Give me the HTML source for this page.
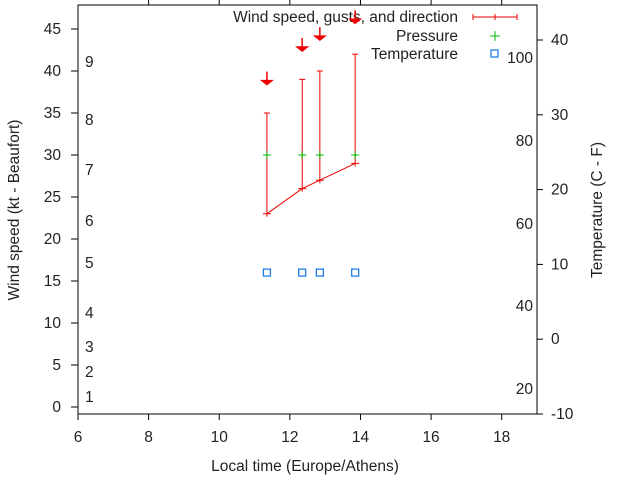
<!DOCTYPE html>
<html><head><meta charset="utf-8"><style>
body{margin:0;background:#fff}
svg text{font-family:"Liberation Sans",sans-serif;font-size:15.5px;fill:#222}
</style></head><body>
<svg id="c" width="640" height="480" xmlns="http://www.w3.org/2000/svg"></svg>
<script>
const times=[11.35,12.35,12.85,13.85];
const wind=[23,26,27,29];
const gust=[35,39,40,42];
const pressureY=[30,30,30,30];
const tempY=[16,16,16,16];
const dirY=[38.5,42.5,43.8,45.8];
const xTicks=[6,8,10,12,14,16,18];
const yTicks=[0,5,10,15,20,25,30,35,40,45];
const cTicks=[-10,0,10,20,30,40];
const fLabels=[{t:"20",y:389},{t:"40",y:306},{t:"60",y:224},{t:"80",y:141},{t:"100",y:58}];
const bLabels=[["1",397],["2",372],["3",347],["4",313],["5",263],["6",221],["7",170],["8",120],["9",62]];
const L=78,R=537,T=5,B=414;
const X=v=>L+(v-6)*(R-L)/13;
const Y=v=>407-v*8.4;
const YC=v=>414-(v+10)*7.48;
const s=document.getElementById('c');
function el(n,a,p){const e=document.createElementNS('http://www.w3.org/2000/svg',n);for(const k in a)e.setAttribute(k,a[k]);(p||s).appendChild(e);return e;}
function tx(x,y,t,anchor,name){const e=el('text',{x:x,y:y,'text-anchor':anchor||'start'});e.textContent=t;return e;}
const fr=el('rect',{x:L,y:T,width:R-L,height:B-T,fill:'none',stroke:'#000'});

xTicks.forEach(v=>{const x=X(v);el('line',{x1:x,x2:x,y1:B,y2:B+6,stroke:'#000'});if(v>6)el('line',{x1:x,x2:x,y1:T,y2:T-5,stroke:'#000'});tx(x,442,String(v),'middle','x-tick-label');});
yTicks.forEach(v=>{const y=Y(v);el('line',{x1:L-7,x2:L,y1:y,y2:y,stroke:'#000'});tx(61,y+5,String(v),'end','y-tick-label');});
cTicks.forEach(v=>{const y=YC(v);el('line',{x1:R,x2:R+6,y1:y,y2:y,stroke:'#000'});tx(551,y+5,String(v),'start','y2-tick-label');});
fLabels.forEach(f=>tx(533,f.y+5,f.t,'end','fahrenheit-label'));
bLabels.forEach(b=>tx(85,b[1]+5,b[0],'start','beaufort-label'));
tx(305,471,'Local time (Europe/Athens)','middle','x-axis-title');
let t1=tx(0,0,'Wind speed (kt - Beaufort)','middle','y-axis-title');t1.setAttribute('transform','translate(19,210) rotate(-90)');
let t2=tx(0,0,'Temperature (C - F)','middle','y2-axis-title');t2.setAttribute('transform','translate(602,210) rotate(-90)');
tx(458,22,'Wind speed, gusts, and direction','end','legend-wind');
tx(458,41,'Pressure','end','legend-pressure');
tx(458,59,'Temperature','end','legend-temperature');
el('path',{d:'M473,17H517M473,14V20M495,14V20M517,14V20',stroke:'#e00',fill:'none'});
el('path',{d:'M490,36H500M495,31V41',stroke:'#0b0',fill:'none'});
el('rect',{x:491,y:50,width:7,height:7,fill:'none',stroke:'#1e7ee8','stroke-width':1.3});
let d=times.map((t,i)=>(i?'L':'M')+X(t)+','+Y(wind[i])).join('');
const wl=el('path',{d:d,stroke:'#e00',fill:'none'});

times.forEach((t,i)=>{const x=X(t);
const g=el('path',{d:`M${x},${Y(wind[i])+3}V${Y(gust[i])}M${x-3},${Y(gust[i])}H${x+3}M${x-4},${Y(wind[i])}H${x+4}`,stroke:'#e00',fill:'none'});

const p=el('path',{d:`M${x-4},${Y(pressureY[i])}H${x+4}M${x},${Y(pressureY[i])-4}V${Y(pressureY[i])+4}`,stroke:'#0b0',fill:'none'});

const q=el('rect',{x:x-3.5,y:Y(tempY[i])-3.5,width:7,height:7,fill:'none',stroke:'#1e7ee8','stroke-width':1.3});

const yd=Y(dirY[i]);
const a=el('path',{d:`M${x},${yd-12}V${yd}M${x-5},${yd-3}L${x},${yd+1}L${x+5},${yd-3}Z`,stroke:'#e00',fill:'#e00','stroke-width':1.5});

});
</script>
</body></html>
